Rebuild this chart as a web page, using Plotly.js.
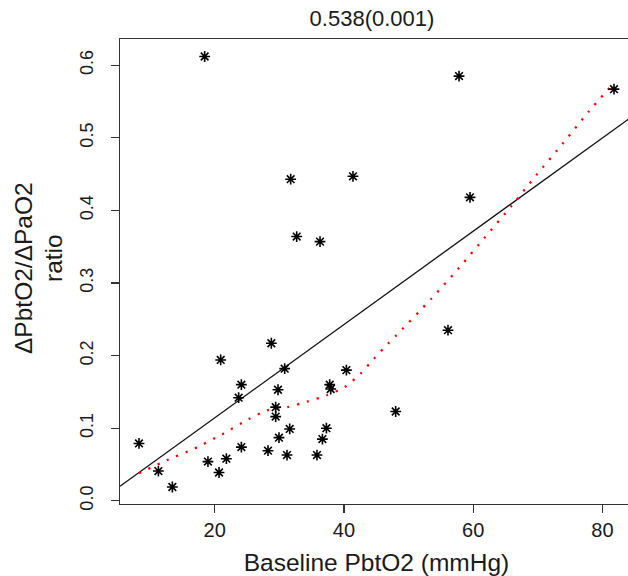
<!DOCTYPE html>
<html>
<head>
<meta charset="utf-8">
<script src="https://cdn.plot.ly/plotly-3.0.1.min.js"></script>
<style>
  html, body { margin: 0; padding: 0; overflow: hidden; background: #fff; }
  #chart { width: 634px; height: 576px; }
</style>
</head>
<body>
<div id="chart"></div>
<script>
// Scatter points: Baseline PbtO2 (mmHg) vs ΔPbtO2/ΔPaO2 ratio
const baselinePbtO2 = [8.29, 11.29, 13.45, 18.45, 18.96, 20.67, 20.93, 21.81, 23.71, 24.13,
  24.13, 28.25, 28.77, 29.44, 29.44, 29.80, 29.95, 30.83, 31.19, 31.61,
  31.76, 32.69, 35.83, 36.30, 36.67, 37.29, 37.80, 37.95, 40.38, 41.40,
  48.01, 56.10, 57.81, 59.51, 81.79];
const ratio = [0.079, 0.041, 0.019, 0.612, 0.054, 0.039, 0.194, 0.058, 0.142, 0.160,
  0.074, 0.069, 0.217, 0.129, 0.116, 0.153, 0.087, 0.182, 0.063, 0.099,
  0.443, 0.364, 0.063, 0.357, 0.085, 0.100, 0.160, 0.154, 0.180, 0.447,
  0.123, 0.235, 0.585, 0.418, 0.567];

// Smoothed (lowess) curve
const smoothX = [8.29, 12.53, 16.90, 21.13, 25.26, 28.10, 31.25, 34.28, 37.29, 40.12,
  42.55, 44.65, 46.82, 47.96, 53.53, 57.65, 61.78, 65.92, 69.83, 73.90, 77.88, 81.79];
const smoothY = [0.038, 0.0556, 0.0721, 0.0914, 0.1125, 0.1245, 0.129, 0.1365, 0.1451, 0.1566,
  0.1750, 0.1957, 0.2164, 0.2266, 0.2784, 0.3192, 0.3625, 0.4061, 0.4493, 0.4925, 0.5362, 0.5757];

const titleText = "0.538(0.001)";
const xTitle = "Baseline PbtO2 (mmHg)";
const yTitleLines = ["ΔPbtO2/ΔPaO2", "ratio"];
const xTicks = [20, 40, 60, 80];
const yTicks = [0.0, 0.1, 0.2, 0.3, 0.4, 0.5, 0.6];

const xRange = [5.35, 84.73];
const yRange = [-0.0044, 0.6361];

// Least-squares fit line from the data
const n = baselinePbtO2.length;
const mx = baselinePbtO2.reduce((a, b) => a + b, 0) / n;
const my = ratio.reduce((a, b) => a + b, 0) / n;
let sxy = 0, sxx = 0;
for (let i = 0; i < n; i++) {
  sxy += (baselinePbtO2[i] - mx) * (ratio[i] - my);
  sxx += (baselinePbtO2[i] - mx) ** 2;
}
const slope = sxy / sxx;
const intercept = my - slope * mx;
const fitX = xRange.slice();
const fitY = fitX.map(x => intercept + slope * x);

const FONT = "Liberation Sans, Arial, sans-serif";
const TXT = "#1a1a1a";

const traces = [
  {
    x: fitX, y: fitY, type: "scatter", mode: "lines",
    line: { color: "#111", width: 1.3 }, hoverinfo: "skip", cliponaxis: true
  },
  {
    x: smoothX, y: smoothY, type: "scatter", mode: "lines",
    line: { color: "#ff0000", width: 2.3, dash: "2.2px,8px", shape: "spline", smoothing: 0.6 },
    hoverinfo: "skip"
  },
  {
    x: baselinePbtO2, y: ratio, type: "scatter", mode: "markers",
    marker: { symbol: "asterisk-open", size: 9, color: "#000", line: { color: "#000", width: 1.6 } },
    cliponaxis: false
  }
];

const layout = {
  width: 634, height: 576,
  margin: { l: 120, r: 1, t: 39, b: 72, pad: 0 },
  paper_bgcolor: "#fff", plot_bgcolor: "#fff",
  showlegend: false,
  font: { family: FONT, color: TXT },
  title: {
    text: titleText,
    font: { family: FONT, size: 22, color: TXT },
    xref: "container", yref: "container",
    x: 372 / 634, xanchor: "center",
    y: 1 - 18 / 576, yanchor: "middle"
  },
  xaxis: {
    range: xRange, autorange: false,
    tickmode: "array", tickvals: xTicks, ticktext: xTicks.map(String),
    ticks: "outside", ticklen: 8, tickwidth: 1.2, tickcolor: "#333",
    tickfont: { family: FONT, size: 20, color: TXT },
    showline: true, linecolor: "#333", linewidth: 1.3, mirror: true,
    showgrid: false, zeroline: false,
    title: { text: xTitle, font: { family: FONT, size: 24.5, color: TXT }, standoff: 16 }
  },
  yaxis: {
    range: yRange, autorange: false,
    tickmode: "array", tickvals: yTicks, ticktext: yTicks.map(v => v.toFixed(1)),
    tickangle: -90, ticklabelstandoff: 11,
    ticks: "outside", ticklen: 8, tickwidth: 1.2, tickcolor: "#333",
    tickfont: { family: FONT, size: 18, color: TXT },
    showline: true, linecolor: "#333", linewidth: 1.3, mirror: true,
    showgrid: false, zeroline: false
  },
  annotations: [
    {
      text: yTitleLines[0], textangle: -90, showarrow: false,
      xref: "paper", yref: "paper", x: 0, y: (504 - 268) / 465,
      xanchor: "center", yanchor: "middle", xshift: -97,
      font: { family: FONT, size: 24.5, color: TXT }
    },
    {
      text: yTitleLines[1], textangle: -90, showarrow: false,
      xref: "paper", yref: "paper", x: 0, y: (504 - 258) / 465,
      xanchor: "center", yanchor: "middle", xshift: -67,
      font: { family: FONT, size: 24.5, color: TXT }
    }
  ]
};

Plotly.newPlot("chart", traces, layout, { displayModeBar: false, staticPlot: true });
</script>
</body>
</html>
